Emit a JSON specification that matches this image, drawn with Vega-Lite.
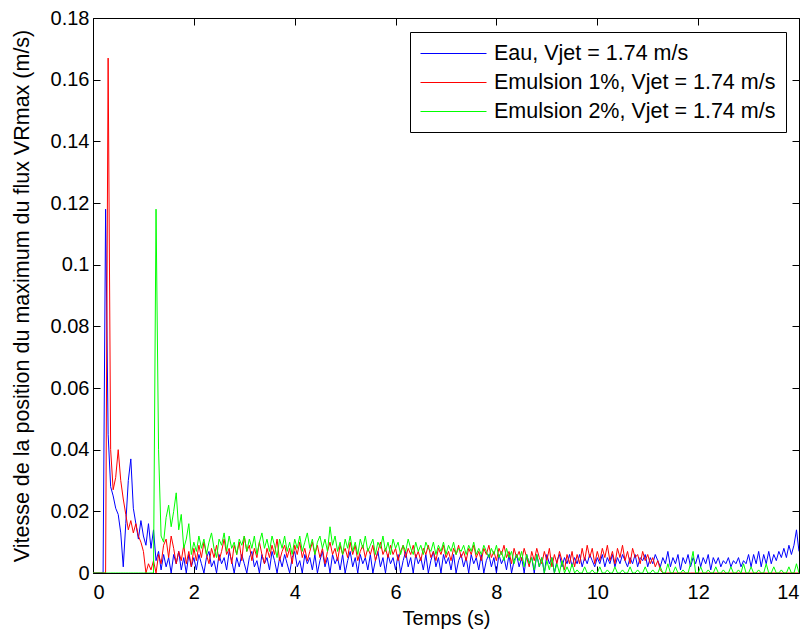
{
"$schema": "https://vega.github.io/schema/vega-lite/v6.json",
"width": 706, "height": 555,
"autosize": "none",
"padding": {"left": 93, "top": 18, "right": 7, "bottom": 56},
"background": "white",
"config": {
  "font": "Liberation Sans",
  "view": {"stroke": "black", "strokeWidth": 1},
  "axis": {"labelFontSize": 20, "titleFontSize": 20, "titleFontWeight": "normal", "labelColor": "black", "titleColor": "black", "tickColor": "black", "tickSize": -7, "tickWidth": 1, "grid": false, "domain": false, "labelFont": "Liberation Sans", "titleFont": "Liberation Sans"},
  "legend": {"labelFont": "Liberation Sans"}
},
"data": {"values": [
{"t":0.00,"a":0,"b":0,"c":0},{"t":0.05,"a":0,"b":0,"c":0},{"t":0.10,"a":0,"b":0,"c":0},{"t":0.15,"a":0,"b":0,"c":0},{"t":0.20,"a":0,"b":0,"c":0},
{"t":0.25,"a":0.118,"b":0,"c":0},{"t":0.30,"a":0.045,"b":0.167,"c":0},{"t":0.35,"a":0.028,"b":0.04,"c":0},{"t":0.40,"a":0.025,"b":0.027,"c":0},{"t":0.45,"a":0.021,"b":0.031,"c":0},
{"t":0.50,"a":0.019,"b":0.04,"c":0},{"t":0.55,"a":0.013,"b":0.03,"c":0},{"t":0.60,"a":0.002,"b":0.024,"c":0},{"t":0.65,"a":0.016,"b":0.019,"c":0},{"t":0.70,"a":0.03,"b":0.014,"c":0},
{"t":0.75,"a":0.037,"b":0.017,"c":0},{"t":0.80,"a":0.021,"b":0.013,"c":0},{"t":0.85,"a":0.016,"b":0.016,"c":0},{"t":0.90,"a":0.011,"b":0.012,"c":0},{"t":0.95,"a":0.017,"b":0.01,"c":0},
{"t":1.00,"a":0.012,"b":0.007,"c":0},{"t":1.05,"a":0.009,"b":0,"c":0},{"t":1.10,"a":0.016,"b":0.003,"c":0},{"t":1.15,"a":0.008,"b":0.001,"c":0},{"t":1.20,"a":0.014,"b":0.004,"c":0},
{"t":1.25,"a":0.004,"b":0,"c":0.118},{"t":1.30,"a":0.007,"b":0.006,"c":0.04},{"t":1.35,"a":0.001,"b":0.003,"c":0.012},{"t":1.40,"a":0.006,"b":0.009,"c":0.01},{"t":1.45,"a":0.002,"b":0.011,"c":0.018},
{"t":1.50,"a":0.005,"b":0.005,"c":0.022},{"t":1.55,"a":0,"b":0.012,"c":0.015},{"t":1.60,"a":0.006,"b":0.008,"c":0.02},{"t":1.65,"a":0.003,"b":0.003,"c":0.026},{"t":1.70,"a":0.007,"b":0.007,"c":0.014},
{"t":1.75,"a":0.001,"b":0.004,"c":0.019},{"t":1.80,"a":0.005,"b":0.009,"c":0.008},{"t":1.85,"a":0,"b":0.003,"c":0.011},{"t":1.90,"a":0.006,"b":0.007,"c":0.016},{"t":1.95,"a":0.002,"b":0.002,"c":0.006},
{"t":2.00,"a":0.005,"b":0.008,"c":0.01},{"t":2.05,"a":0.001,"b":0.004,"c":0.007},{"t":2.10,"a":0.006,"b":0.009,"c":0.012},{"t":2.15,"a":0.003,"b":0.005,"c":0.008},{"t":2.20,"a":0,"b":0.01,"c":0.011},
{"t":2.25,"a":0.005,"b":0.006,"c":0.006},{"t":2.30,"a":0.007,"b":0.003,"c":0.01},{"t":2.35,"a":0.002,"b":0.008,"c":0.013},{"t":2.40,"a":0.004,"b":0.005,"c":0.008},{"t":2.45,"a":0,"b":0.009,"c":0.005},
{"t":2.50,"a":0.006,"b":0.004,"c":0.011},{"t":2.55,"a":0.003,"b":0.007,"c":0.009},{"t":2.60,"a":0.005,"b":0.011,"c":0.013},{"t":2.65,"a":0.001,"b":0.006,"c":0.007},{"t":2.70,"a":0.007,"b":0.008,"c":0.012},
{"t":2.75,"a":0.004,"b":0.003,"c":0.008},{"t":2.80,"a":0,"b":0.009,"c":0.01},{"t":2.85,"a":0.005,"b":0.006,"c":0.006},{"t":2.90,"a":0.002,"b":0.01,"c":0.011},{"t":2.95,"a":0.006,"b":0.004,"c":0.009},
{"t":3.00,"a":0.003,"b":0.012,"c":0.012},{"t":3.05,"a":0,"b":0.007,"c":0.007},{"t":3.10,"a":0.005,"b":0.009,"c":0.011},{"t":3.15,"a":0.007,"b":0.004,"c":0.008},{"t":3.20,"a":0.002,"b":0.008,"c":0.012},
{"t":3.25,"a":0.004,"b":0.005,"c":0.006},{"t":3.30,"a":0,"b":0.01,"c":0.01},{"t":3.35,"a":0.006,"b":0.006,"c":0.013},{"t":3.40,"a":0.003,"b":0.003,"c":0.008},{"t":3.45,"a":0.005,"b":0.008,"c":0.011},
{"t":3.50,"a":0.001,"b":0.005,"c":0.007},{"t":3.55,"a":0.007,"b":0.009,"c":0.012},{"t":3.60,"a":0.004,"b":0.006,"c":0.009},{"t":3.65,"a":0,"b":0.011,"c":0.005},{"t":3.70,"a":0.005,"b":0.004,"c":0.011},
{"t":3.75,"a":0.002,"b":0.007,"c":0.008},{"t":3.80,"a":0.006,"b":0.009,"c":0.012},{"t":3.85,"a":0.003,"b":0.005,"c":0.007},{"t":3.90,"a":0,"b":0.008,"c":0.01},{"t":3.95,"a":0.005,"b":0.003,"c":0.006},
{"t":4.00,"a":0.007,"b":0.009,"c":0.011},{"t":4.05,"a":0.002,"b":0.006,"c":0.008},{"t":4.10,"a":0.004,"b":0.01,"c":0.012},{"t":4.15,"a":0,"b":0.005,"c":0.007},{"t":4.20,"a":0.006,"b":0.008,"c":0.01},
{"t":4.25,"a":0.003,"b":0.004,"c":0.013},{"t":4.30,"a":0.005,"b":0.007,"c":0.008},{"t":4.35,"a":0.001,"b":0.01,"c":0.011},{"t":4.40,"a":0.006,"b":0.006,"c":0.006},{"t":4.45,"a":0,"b":0.009,"c":0.01},
{"t":4.50,"a":0.004,"b":0.005,"c":0.012},{"t":4.55,"a":0.007,"b":0.008,"c":0.008},{"t":4.60,"a":0.002,"b":0.003,"c":0.011},{"t":4.65,"a":0.005,"b":0.007,"c":0.007},{"t":4.70,"a":0,"b":0.01,"c":0.015},
{"t":4.75,"a":0.006,"b":0.006,"c":0.009},{"t":4.80,"a":0.003,"b":0.008,"c":0.012},{"t":4.85,"a":0.005,"b":0.004,"c":0.007},{"t":4.90,"a":0.001,"b":0.009,"c":0.01},{"t":4.95,"a":0.006,"b":0.006,"c":0.006},
{"t":5.00,"a":0,"b":0.008,"c":0.011},{"t":5.05,"a":0.004,"b":0.005,"c":0.008},{"t":5.10,"a":0.007,"b":0.01,"c":0.012},{"t":5.15,"a":0.002,"b":0.006,"c":0.007},{"t":5.20,"a":0.005,"b":0.009,"c":0.01},
{"t":5.25,"a":0,"b":0.004,"c":0.006},{"t":5.30,"a":0.006,"b":0.007,"c":0.011},{"t":5.35,"a":0.003,"b":0.009,"c":0.008},{"t":5.40,"a":0.005,"b":0.005,"c":0.012},{"t":5.45,"a":0.001,"b":0.008,"c":0.007},
{"t":5.50,"a":0.006,"b":0.006,"c":0.009},{"t":5.55,"a":0,"b":0.009,"c":0.011},{"t":5.60,"a":0.004,"b":0.004,"c":0.006},{"t":5.65,"a":0.007,"b":0.007,"c":0.01},{"t":5.70,"a":0.002,"b":0.01,"c":0.008},
{"t":5.75,"a":0.005,"b":0.006,"c":0.012},{"t":5.80,"a":0,"b":0.008,"c":0.007},{"t":5.85,"a":0.006,"b":0.005,"c":0.01},{"t":5.90,"a":0.003,"b":0.009,"c":0.006},{"t":5.95,"a":0.005,"b":0.006,"c":0.011},
{"t":6.00,"a":0.001,"b":0.008,"c":0.008},{"t":6.05,"a":0.006,"b":0.004,"c":0.01},{"t":6.10,"a":0,"b":0.007,"c":0.006},{"t":6.15,"a":0.004,"b":0.009,"c":0.009},{"t":6.20,"a":0.007,"b":0.005,"c":0.007},
{"t":6.25,"a":0.002,"b":0.008,"c":0.011},{"t":6.30,"a":0.005,"b":0.006,"c":0.008},{"t":6.35,"a":0,"b":0.009,"c":0.006},{"t":6.40,"a":0.006,"b":0.005,"c":0.01},{"t":6.45,"a":0.003,"b":0.007,"c":0.007},
{"t":6.50,"a":0.005,"b":0.004,"c":0.009},{"t":6.55,"a":0.001,"b":0.008,"c":0.006},{"t":6.60,"a":0.006,"b":0.006,"c":0.01},{"t":6.65,"a":0,"b":0.009,"c":0.008},{"t":6.70,"a":0.004,"b":0.005,"c":0.007},
{"t":6.75,"a":0.007,"b":0.007,"c":0.01},{"t":6.80,"a":0.002,"b":0.004,"c":0.006},{"t":6.85,"a":0.005,"b":0.008,"c":0.009},{"t":6.90,"a":0,"b":0.006,"c":0.007},{"t":6.95,"a":0.006,"b":0.009,"c":0.01},
{"t":7.00,"a":0.003,"b":0.005,"c":0.006},{"t":7.05,"a":0.005,"b":0.007,"c":0.009},{"t":7.10,"a":0.001,"b":0.004,"c":0.007},{"t":7.15,"a":0.006,"b":0.008,"c":0.01},{"t":7.20,"a":0,"b":0.006,"c":0.006},
{"t":7.25,"a":0.004,"b":0.009,"c":0.008},{"t":7.30,"a":0.006,"b":0.005,"c":0.007},{"t":7.35,"a":0.002,"b":0.007,"c":0.009},{"t":7.40,"a":0.005,"b":0.004,"c":0.006},{"t":7.45,"a":0,"b":0.008,"c":0.009},
{"t":7.50,"a":0.006,"b":0.006,"c":0.007},{"t":7.55,"a":0.003,"b":0.009,"c":0.01},{"t":7.60,"a":0.005,"b":0.005,"c":0.006},{"t":7.65,"a":0.001,"b":0.007,"c":0.008},{"t":7.70,"a":0.006,"b":0.004,"c":0.006},
{"t":7.75,"a":0,"b":0.008,"c":0.009},{"t":7.80,"a":0.004,"b":0.006,"c":0.007},{"t":7.85,"a":0.006,"b":0.009,"c":0.005},{"t":7.90,"a":0.002,"b":0.005,"c":0.008},{"t":7.95,"a":0.005,"b":0.007,"c":0.006},
{"t":8.00,"a":0,"b":0.004,"c":0.009},{"t":8.05,"a":0.006,"b":0.008,"c":0.005},{"t":8.10,"a":0.003,"b":0.006,"c":0.007},{"t":8.15,"a":0.005,"b":0.009,"c":0.004},{"t":8.20,"a":0.001,"b":0.005,"c":0.008},
{"t":8.25,"a":0.006,"b":0.007,"c":0.005},{"t":8.30,"a":0,"b":0.003,"c":0.007},{"t":8.35,"a":0.004,"b":0.008,"c":0.003},{"t":8.40,"a":0.006,"b":0.005,"c":0.006},{"t":8.45,"a":0.002,"b":0.007,"c":0.004},
{"t":8.50,"a":0.005,"b":0.004,"c":0.007},{"t":8.55,"a":0,"b":0.008,"c":0.002},{"t":8.60,"a":0.006,"b":0.005,"c":0.006},{"t":8.65,"a":0.003,"b":0.002,"c":0.003},{"t":8.70,"a":0.005,"b":0.007,"c":0.005},
{"t":8.75,"a":0,"b":0.004,"c":0.001},{"t":8.80,"a":0.006,"b":0.008,"c":0.006},{"t":8.85,"a":0.002,"b":0.005,"c":0.002},{"t":8.90,"a":0.005,"b":0.003,"c":0.005},{"t":8.95,"a":0,"b":0.007,"c":0},
{"t":9.00,"a":0.006,"b":0.004,"c":0.004},{"t":9.05,"a":0.003,"b":0.008,"c":0.001},{"t":9.10,"a":0.005,"b":0.002,"c":0.005},{"t":9.15,"a":0,"b":0.006,"c":0},{"t":9.20,"a":0.004,"b":0.003,"c":0.003},
{"t":9.25,"a":0.006,"b":0.007,"c":0},{"t":9.30,"a":0.002,"b":0.004,"c":0.004},{"t":9.35,"a":0.005,"b":0.001,"c":0},{"t":9.40,"a":0.003,"b":0.006,"c":0.002},{"t":9.45,"a":0.006,"b":0.003,"c":0},
{"t":9.50,"a":0.002,"b":0.007,"c":0.003},{"t":9.55,"a":0.005,"b":0.002,"c":0},{"t":9.60,"a":0.003,"b":0.006,"c":0.001},{"t":9.65,"a":0.006,"b":0.003,"c":0},{"t":9.70,"a":0.002,"b":0.008,"c":0},
{"t":9.75,"a":0.005,"b":0.004,"c":0.002},{"t":9.80,"a":0.003,"b":0.009,"c":0},{"t":9.85,"a":0.006,"b":0.005,"c":0},{"t":9.90,"a":0.004,"b":0.008,"c":0.001},{"t":9.95,"a":0.002,"b":0.003,"c":0},
{"t":10.00,"a":0.005,"b":0.007,"c":0},{"t":10.05,"a":0.003,"b":0.004,"c":0.002},{"t":10.10,"a":0.006,"b":0.008,"c":0},{"t":10.15,"a":0.002,"b":0.005,"c":0},{"t":10.20,"a":0.005,"b":0.009,"c":0.001},
{"t":10.25,"a":0.003,"b":0.004,"c":0},{"t":10.30,"a":0.006,"b":0.007,"c":0},{"t":10.35,"a":0.002,"b":0.003,"c":0.002},{"t":10.40,"a":0.005,"b":0.008,"c":0},{"t":10.45,"a":0.003,"b":0.005,"c":0},
{"t":10.50,"a":0.006,"b":0.009,"c":0.001},{"t":10.55,"a":0.004,"b":0.004,"c":0},{"t":10.60,"a":0.002,"b":0.007,"c":0},{"t":10.65,"a":0.005,"b":0.003,"c":0.002},{"t":10.70,"a":0.003,"b":0.008,"c":0},
{"t":10.75,"a":0.006,"b":0.005,"c":0},{"t":10.80,"a":0.002,"b":0.006,"c":0.001},{"t":10.85,"a":0.005,"b":0.003,"c":0},{"t":10.90,"a":0.004,"b":0.007,"c":0},{"t":10.95,"a":0.006,"b":0.004,"c":0.002},
{"t":11.00,"a":0.002,"b":0.006,"c":0},{"t":11.05,"a":0.005,"b":0.003,"c":0},{"t":11.10,"a":0.003,"b":0.005,"c":0.001},{"t":11.15,"a":0.006,"b":0.002,"c":0},{"t":11.20,"a":0.004,"b":0.004,"c":0},
{"t":11.25,"a":0.002,"b":0.001,"c":0.002},{"t":11.30,"a":0.005,"b":0,"c":0},{"t":11.35,"a":0.003,"b":0,"c":0},{"t":11.40,"a":0.007,"b":0,"c":0.003},{"t":11.45,"a":0.002,"b":0,"c":0},
{"t":11.50,"a":0.005,"b":0,"c":0},{"t":11.55,"a":0.003,"b":0,"c":0.002},{"t":11.60,"a":0.006,"b":0,"c":0},{"t":11.65,"a":0.001,"b":0,"c":0},{"t":11.70,"a":0.005,"b":0,"c":0.001},
{"t":11.75,"a":0.003,"b":0,"c":0},{"t":11.80,"a":0.006,"b":0,"c":0},{"t":11.85,"a":0.002,"b":0,"c":0.003},{"t":11.90,"a":0.005,"b":0,"c":0.007},{"t":11.95,"a":0.003,"b":0,"c":0},
{"t":12.00,"a":0.006,"b":0,"c":0},{"t":12.05,"a":0.002,"b":0,"c":0.002},{"t":12.10,"a":0.005,"b":0,"c":0},{"t":12.15,"a":0.003,"b":0,"c":0},{"t":12.20,"a":0.006,"b":0,"c":0.001},
{"t":12.25,"a":0.001,"b":0,"c":0},{"t":12.30,"a":0.005,"b":0,"c":0},{"t":12.35,"a":0.003,"b":0,"c":0.002},{"t":12.40,"a":0.005,"b":0,"c":0},{"t":12.45,"a":0.002,"b":0,"c":0},
{"t":12.50,"a":0.004,"b":0,"c":0.001},{"t":12.55,"a":0.003,"b":0,"c":0},{"t":12.60,"a":0.005,"b":0,"c":0},{"t":12.65,"a":0.002,"b":0,"c":0.002},{"t":12.70,"a":0.004,"b":0,"c":0},
{"t":12.75,"a":0.003,"b":0,"c":0},{"t":12.80,"a":0.005,"b":0,"c":0.001},{"t":12.85,"a":0.002,"b":0,"c":0},{"t":12.90,"a":0.004,"b":0,"c":0.003},{"t":12.95,"a":0.003,"b":0,"c":0},
{"t":13.00,"a":0.006,"b":0,"c":0},{"t":13.05,"a":0.002,"b":0,"c":0.002},{"t":13.10,"a":0.006,"b":0,"c":0},{"t":13.15,"a":0.003,"b":0,"c":0},{"t":13.20,"a":0.007,"b":0,"c":0.001},
{"t":13.25,"a":0.002,"b":0,"c":0},{"t":13.30,"a":0.006,"b":0,"c":0},{"t":13.35,"a":0.003,"b":0,"c":0.003},{"t":13.40,"a":0.007,"b":0,"c":0},{"t":13.45,"a":0.003,"b":0,"c":0},
{"t":13.50,"a":0.006,"b":0,"c":0.002},{"t":13.55,"a":0.004,"b":0,"c":0},{"t":13.60,"a":0.007,"b":0,"c":0},{"t":13.65,"a":0.005,"b":0,"c":0.001},{"t":13.70,"a":0.008,"b":0,"c":0},
{"t":13.75,"a":0.005,"b":0,"c":0},{"t":13.80,"a":0.009,"b":0,"c":0.002},{"t":13.85,"a":0.006,"b":0,"c":0},{"t":13.90,"a":0.009,"b":0,"c":0},{"t":13.95,"a":0.014,"b":0,"c":0.003},
{"t":14.00,"a":0.007,"b":0,"c":0}
]},
"transform": [{"fold": ["a", "b", "c"], "as": ["s", "v"]}],
"layer": [
  {
    "mark": {"type": "line", "strokeWidth": 1, "clip": true},
    "encoding": {
      "x": {"field": "t", "type": "quantitative", "scale": {"domain": [0, 14], "nice": false, "zero": false},
            "axis": {"values": [0, 2, 4, 6, 8, 10, 12, 14], "title": "Temps (s)", "labelPadding": 16, "titlePadding": 6, "format": "~g"}},
      "y": {"field": "v", "type": "quantitative", "scale": {"domain": [0, 0.18], "nice": false},
            "axis": {"values": [0, 0.02, 0.04, 0.06, 0.08, 0.1, 0.12, 0.14, 0.16, 0.18], "title": "Vitesse de la position du maximum du flux VRmax (m/s)", "titleFontSize": 21.5, "labelPadding": 11, "titlePadding": 17, "format": "~g"}},
      "color": {"field": "s", "type": "nominal",
                "scale": {"domain": ["a", "b", "c"], "range": ["#0000ff", "#ff0000", "#00ff00"]},
                "legend": {"title": null, "orient": "none", "legendX": 317, "legendY": 14, "strokeColor": "black", "fillColor": "white", "padding": 10, "symbolType": "M-1,0H5", "symbolSize": 484, "symbolStrokeWidth": 1, "labelFontSize": 21.5, "labelColor": "black", "labelLimit": 0, "labelOffset": 51, "rowPadding": 7,
                           "labelExpr": "datum.value == 'a' ? 'Eau, Vjet = 1.74 m/s' : datum.value == 'b' ? 'Emulsion 1%, Vjet = 1.74 m/s' : 'Emulsion 2%, Vjet = 1.74 m/s'"}}
    }
  },
  {
    "mark": {"type": "point", "opacity": 0},
    "encoding": {
      "x": {"field": "t", "type": "quantitative", "axis": {"orient": "top", "values": [0, 2, 4, 6, 8, 10, 12, 14], "labels": false, "title": null}},
      "y": {"field": "v", "type": "quantitative", "axis": {"orient": "right", "values": [0, 0.02, 0.04, 0.06, 0.08, 0.1, 0.12, 0.14, 0.16, 0.18], "labels": false, "title": null}}
    }
  }
],
"resolve": {"axis": {"x": "independent", "y": "independent"}}
}
